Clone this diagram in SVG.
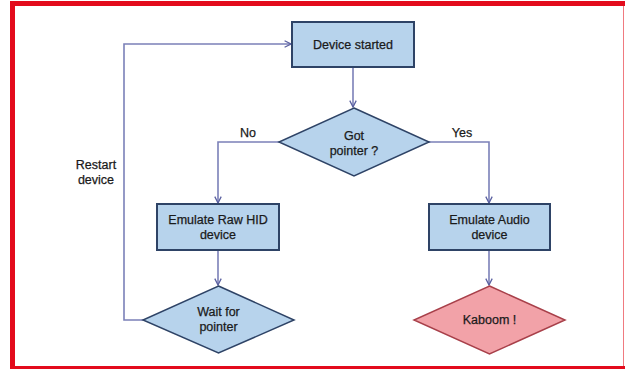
<svg xmlns="http://www.w3.org/2000/svg" width="625" height="369" viewBox="0 0 625 369">
<defs>
<style>
.box{fill:#b7d3ec;stroke:#2e4366;stroke-width:2}
.dia{fill:#b7d3ec;stroke:#2e4366;stroke-width:1.5}
.kab{fill:#f2a2a8;stroke:#a8404a;stroke-width:1.5}
.con{fill:none;stroke:#7b80b8;stroke-width:1.6}
text{font-family:"Liberation Sans",Arial,sans-serif;font-size:12.5px;fill:#1a1a1a;stroke:#1a1a1a;stroke-width:0.25;text-anchor:middle}
</style>
<marker id="arr" viewBox="0 0 10 10" refX="9" refY="5" markerWidth="8" markerHeight="8" markerUnits="userSpaceOnUse" orient="auto">
<path d="M1,1 L9,5 L1,9" fill="none" stroke="#5a60a0" stroke-width="1.6"/>
</marker>
</defs>
<rect x="0" y="0" width="625" height="369" fill="#fff"/>
<g id="frame">
<rect x="10" y="1" width="615" height="5" fill="#e30b1c"/>
<rect x="10" y="1" width="5" height="368" fill="#e30b1c"/>
<rect x="10" y="366" width="615" height="3" fill="#e30b1c"/>
<line x1="623.5" y1="6" x2="623.5" y2="366" stroke="#f07a80" stroke-width="1"/>
</g>
<g id="connectors">
<path class="con" d="M353,67 V107" marker-end="url(#arr)"/>
<path class="con" d="M279,142 H218 V203" marker-end="url(#arr)"/>
<path class="con" d="M429,142 H489 V203" marker-end="url(#arr)"/>
<path class="con" d="M218,250 V285" marker-end="url(#arr)"/>
<path class="con" d="M489,250 V285" marker-end="url(#arr)"/>
<path class="con" d="M143,320 H124 V44 H291" marker-end="url(#arr)"/>
<text x="248" y="137">No</text>
<text x="462" y="137">Yes</text>
<text x="96" y="169">Restart</text>
<text x="96" y="184">device</text>
</g>
<g id="device-started">
<rect class="box" x="292" y="22" width="122" height="45"/>
<text x="353" y="49">Device started</text>
</g>
<g id="got-pointer">
<polygon class="dia" points="354,108 429,142 354,176 279,142"/>
<text x="354" y="140">Got</text>
<text x="354" y="155">pointer ?</text>
</g>
<g id="emulate-raw-hid">
<rect class="box" x="157" y="204" width="122" height="46"/>
<text x="218" y="224">Emulate Raw HID</text>
<text x="218" y="239">device</text>
</g>
<g id="emulate-audio">
<rect class="box" x="429" y="204" width="121" height="46"/>
<text x="489.5" y="224">Emulate Audio</text>
<text x="489.5" y="239">device</text>
</g>
<g id="wait-for-pointer">
<polygon class="dia" points="218.5,286 294,320 218.5,353 143,320"/>
<text x="218.5" y="316">Wait for</text>
<text x="218.5" y="331">pointer</text>
</g>
<g id="kaboom">
<polygon class="kab" points="489.5,286 565,320 489.5,354 414,320"/>
<text x="489.5" y="324">Kaboom !</text>
</g>
</svg>
